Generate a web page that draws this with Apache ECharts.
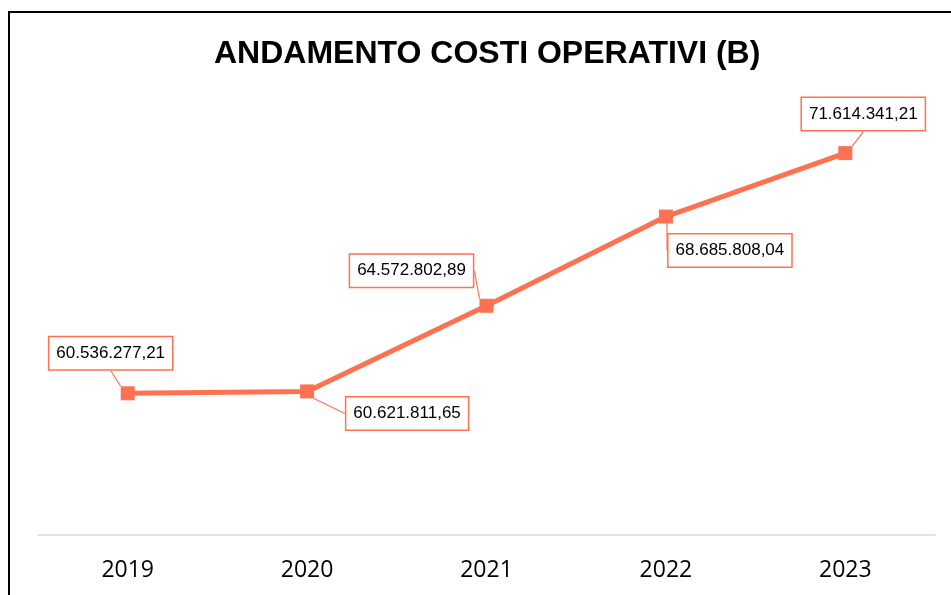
<!DOCTYPE html>
<html>
<head>
    <meta charset="utf-8">
    <title>Andamento costi operativi</title>
    <style>
        html, body { margin: 0; padding: 0; background: #fff; }
        #chart { width: 951px; height: 595px; }
    </style>
</head>
<body>
    <div id="chart"></div>
    <script src="https://cdn.jsdelivr.net/npm/echarts@6/dist/echarts.min.js"></script>
    <script>
        // dati
        var anni = ['2019', '2020', '2021', '2022', '2023'];
        var costi = [60536277.21, 60621811.65, 64572802.89, 68685808.04, 71614341.21];
        // spostamento etichette rispetto al punto (dx, dy)
        var spostamenti = [[-17, -40], [100, 22], [-75, -35], [64, 34], [18, -39]];

        var arancio = '#FF7150';

        function formatIt(v) {
            var parti = v.toFixed(2).split('.');
            return parti[0].replace(/\B(?=(\d{3})+(?!\d))/g, '.') + ',' + parti[1];
        }

        var chart = echarts.init(document.getElementById('chart'));
        var option = {
            backgroundColor: '#fff',
            animation: false,
            title: {
                text: 'ANDAMENTO COSTI OPERATIVI (B)',
                left: 209,
                top: 33,
                textStyle: {
                    fontFamily: 'Liberation Sans, Arial, sans-serif',
                    fontWeight: 'bold',
                    fontSize: 32,
                    color: '#000'
                }
            },
            graphic: [{
                type: 'rect',
                shape: { x: 9, y: 12, width: 1200, height: 1200 },
                style: { fill: 'none', stroke: '#000', lineWidth: 2 },
                silent: true
            }],
            grid: { left: 38, right: 16, top: 58, bottom: 60 },
            xAxis: {
                type: 'category',
                data: anni,
                boundaryGap: true,
                axisLine: { lineStyle: { color: '#d9d9d9', width: 1.5 } },
                axisTick: { show: false },
                axisLabel: {
                    margin: 24,
                    color: '#000',
                    fontSize: 23,
                    fontFamily: 'Open Sans, sans-serif'
                }
            },
            yAxis: {
                type: 'value',
                min: 54000000,
                max: 76000000,
                show: false,
                splitLine: { show: false }
            },
            series: [{
                type: 'line',
                data: costi,
                symbol: 'rect',
                symbolSize: 14,
                lineStyle: { color: arancio, width: 5 },
                itemStyle: { color: arancio },
                label: {
                    show: true,
                    position: 'inside',
                    formatter: function (p) { return formatIt(p.value); },
                    color: '#000',
                    fontSize: 17,
                    fontFamily: 'Liberation Sans, Arial, sans-serif',
                    backgroundColor: '#fff',
                    borderColor: arancio,
                    borderWidth: 1.5,
                    padding: [8, 7, 7, 7]
                },
                labelLine: {
                    show: true,
                    lineStyle: { color: arancio, width: 1.2 }
                },
                labelLayout: function (p) {
                    var s = spostamenti[p.dataIndex];
                    return { dx: s[0], dy: s[1] };
                },
                z: 3
            }]
        };
        chart.setOption(option);
        window.addEventListener('resize', function () {
            chart.resize();
        });
    </script>
</body>
</html>
